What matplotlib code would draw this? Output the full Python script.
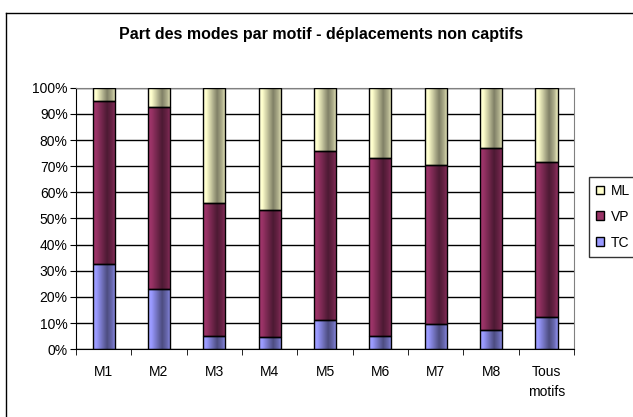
import numpy as np
import matplotlib.pyplot as plt
from matplotlib.colors import to_rgb
from matplotlib.patches import Patch
from matplotlib.lines import Line2D

plt.rcParams['font.family'] = ['Liberation Sans', 'DejaVu Sans']

# share of each mode per trip purpose (fractions)
motifs = ['M1', 'M2', 'M3', 'M4', 'M5', 'M6', 'M7', 'M8', 'Tous\nmotifs']
tc = [0.325, 0.232, 0.051, 0.047, 0.113, 0.052, 0.097, 0.074, 0.122]
vp = [0.624, 0.695, 0.507, 0.484, 0.646, 0.678, 0.607, 0.695, 0.594]
ml = [1 - a - b for a, b in zip(tc, vp)]

series = [('TC', tc, '#9999FF'), ('VP', vp, '#993366'), ('ML', ml, '#FFFFCC')]


def shade(color, n=64):
    # cylinder-like horizontal shading: light left, dark band, lighter right edge
    base = np.array(to_rgb(color))
    t = np.linspace(0, 1, n)
    f = np.interp(t, [0, 0.15, 0.62, 0.85, 1.0], [1.08, 1.0, 0.5, 0.7, 0.95])
    img = np.clip(base[None, :] * f[:, None], 0, 1)
    return img[None, :, :]


fig = plt.figure(figsize=(6.33, 4.17), dpi=100)
ax = fig.add_axes([0.120, 0.1624, 0.787, 0.6273])

x = np.arange(len(motifs))
w = 0.4
bottom = np.zeros(len(motifs))
for name, vals, col in series:
    grad = shade(col)
    for i, v in enumerate(vals):
        ax.imshow(grad, extent=[x[i] - w / 2, x[i] + w / 2, bottom[i], bottom[i] + v],
                  aspect='auto', zorder=2, interpolation='bilinear')
    ax.bar(x, vals, w, bottom=bottom, facecolor='none', edgecolor='black', lw=1, zorder=3)
    bottom += np.array(vals)

ax.set_xlim(-0.5, len(motifs) - 0.5)
ax.set_ylim(0, 1)

# horizontal grid
ax.set_yticks(np.arange(0, 1.01, 0.1))
ax.set_yticklabels([f'{int(round(v * 100))}%' for v in np.arange(0, 1.01, 0.1)], fontsize=10)
ax.yaxis.grid(True, color='black', lw=1)
ax.set_axisbelow(True)

ax.set_xticks(x)
ax.set_xticklabels(motifs, fontsize=10, linespacing=1.6)
ax.set_xticks(np.arange(-0.5, len(motifs)), minor=True)
ax.tick_params(axis='x', which='major', length=0, pad=11)
ax.tick_params(axis='x', which='minor', length=4, direction='out', color='black')
ax.tick_params(axis='y', length=4, direction='out', pad=2)

for s in ['top', 'right']:
    ax.spines[s].set_color('#808080')
for s in ['left', 'bottom']:
    ax.spines[s].set_color('black')

fig.text(321 / 633, 1 - 35 / 417, 'Part des modes par motif - déplacements non captifs',
         ha='center', va='center', fontsize=11.5, fontweight='bold')

handles = [Patch(facecolor=c, edgecolor='black', lw=1) for _, _, c in series][::-1]
labels = [n for n, _, _ in series][::-1]
leg = fig.legend(handles, labels, loc='upper left', bbox_to_anchor=(589 / 633, 1 - 177 / 417),
                 fontsize=10, frameon=True, fancybox=False, handlelength=0.6, handleheight=0.6,
                 handletextpad=0.5, labelspacing=0.85, borderpad=0.5, borderaxespad=0)
leg.get_frame().set_edgecolor('black')
leg.get_frame().set_linewidth(1)

# outer chart frame
fig.add_artist(Line2D([6 / 633, 1], [1 - 13 / 417] * 2, color='black', lw=1))
fig.add_artist(Line2D([6 / 633] * 2, [0, 1 - 13 / 417], color='black', lw=1))

fig.savefig('out.png', dpi=100)
